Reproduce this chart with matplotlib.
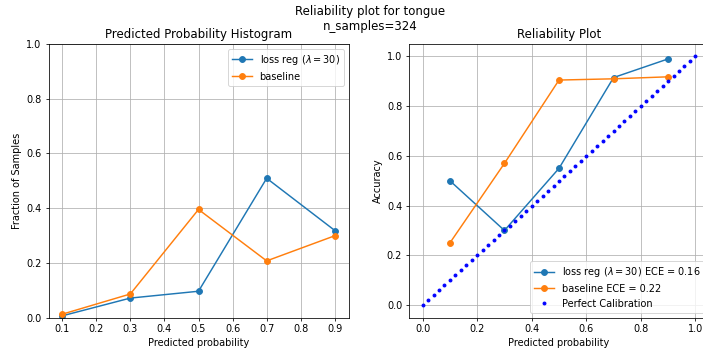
import matplotlib.pyplot as plt
import numpy as np

# bin centres
bins = [0.1, 0.3, 0.5, 0.7, 0.9]

# fraction of samples per bin
frac_reg = [0.006, 0.071, 0.096, 0.509, 0.318]
frac_base = [0.012, 0.086, 0.395, 0.207, 0.299]

# accuracy per bin
acc_reg = [0.50, 0.30, 0.55, 0.915, 0.99]
acc_base = [0.25, 0.57, 0.905, 0.91, 0.918]

ece_reg = 0.16
ece_base = 0.22
n_samples = 324
label_reg = r"loss reg ($\lambda = 30$)"

# diagonal reference
perfect = np.linspace(0, 1, 51)

dpi = 70.3
fig = plt.figure(figsize=(703 / dpi, 351 / dpi), dpi=dpi)
W, H = 703, 351
ax1 = fig.add_axes([48.5 / W, (H - 317.5) / H, 300 / W, 273.5 / H])
ax2 = fig.add_axes([409 / W, (H - 317.5) / H, 300 / W, 273.5 / H])

# histogram panel
ax1.plot(bins, frac_reg, "-o", color="tab:blue", label=label_reg)
ax1.plot(bins, frac_base, "-o", color="tab:orange", label="baseline")
ax1.set_ylim(0, 1)
ax1.set_xlabel("Predicted probability")
ax1.set_ylabel("Fraction of Samples")
ax1.set_title("Predicted Probability Histogram")
ax1.grid(True)
ax1.legend(loc="upper right")

# reliability panel
ax2.plot(bins, acc_reg, "-o", color="tab:blue", label=f"{label_reg} ECE = {ece_reg}")
ax2.plot(bins, acc_base, "-o", color="tab:orange", label=f"baseline ECE = {ece_base}")
ax2.plot(perfect, perfect, "b.", label="Perfect Calibration")
ax2.set_xlim(-0.05, 1.05)
ax2.set_ylim(-0.05, 1.05)
ax2.set_xlabel("Predicted probability")
ax2.set_ylabel("Accuracy")
ax2.set_title("Reliability Plot")
ax2.grid(True)
ax2.legend(loc="lower right")

fig.suptitle(f"Reliability plot for tongue\nn_samples={n_samples}", x=370 / W, y=0.985)

fig.savefig("out.png", dpi=dpi)
